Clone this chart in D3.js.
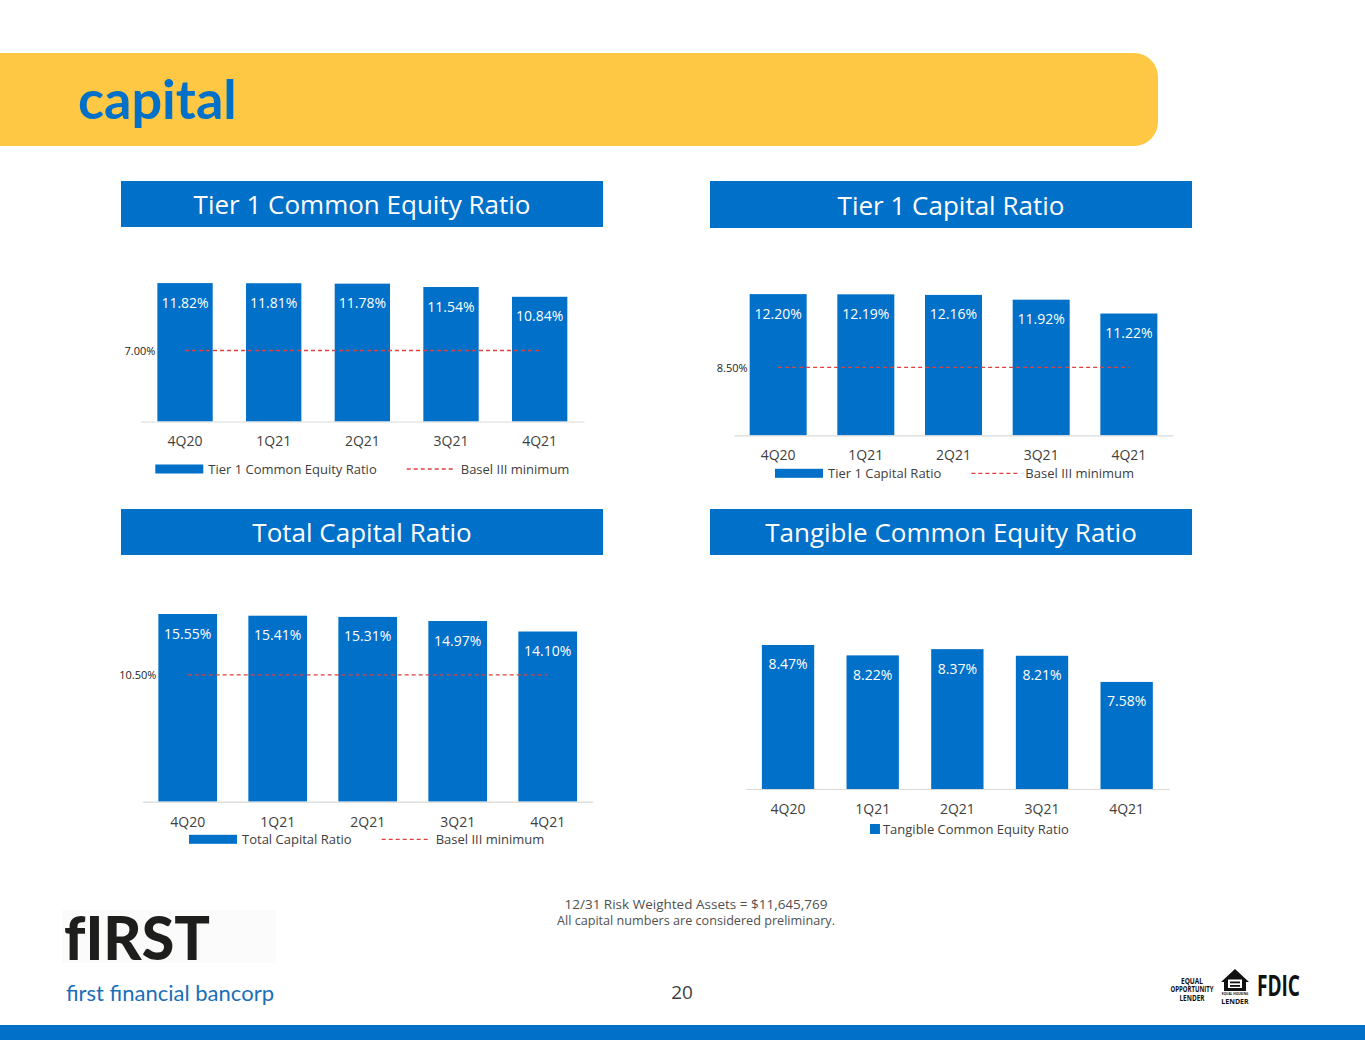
<!DOCTYPE html>
<html>
<head>
<meta charset="utf-8">
<script src="https://cdn.jsdelivr.net/npm/d3@7"></script>
<style>
  html, body { margin: 0; padding: 0; background: #ffffff; }
  svg { display: block; }
  text { font-family: "Open Sans", "Noto Sans", sans-serif; }
</style>
</head>
<body>
<svg id="page" width="1365" height="1055"></svg>
<script>
// ---------- DATA ----------
const categories = ["4Q20", "1Q21", "2Q21", "3Q21", "4Q21"];
const tier1CommonEquity = [11.82, 11.81, 11.78, 11.54, 10.84];
const tier1Capital = [12.20, 12.19, 12.16, 11.92, 11.22];
const totalCapital = [15.55, 15.41, 15.31, 14.97, 14.10];
const tangibleCommonEquity = [8.47, 8.22, 8.37, 8.21, 7.58];
const baselTier1Common = [7.00, 7.00, 7.00, 7.00, 7.00];
const baselTier1Capital = [8.50, 8.50, 8.50, 8.50, 8.50];
const baselTotalCapital = [10.50, 10.50, 10.50, 10.50, 10.50];
const chartTitles = ["Tier 1 Common Equity Ratio", "Tier 1 Capital Ratio", "Total Capital Ratio", "Tangible Common Equity Ratio"];
const footnotes = ["12/31 Risk Weighted Assets = $11,645,769", "All capital numbers are considered preliminary."];

// ---------- STYLE ----------
const BLUE = "#0070C9";
const YELLOW = "#FEC844";
const RED = "#E0413F";
const GREY_TEXT = "#404040";
const fmt = v => v.toFixed(2) + "%";
const footnoteWidths = [263, 278];

const svg = d3.select("#page");

// header banner with rounded right corners
const bannerPath = d3.path();
(function(){
  const x0 = -5, y0 = 53, x1 = 1158, y1 = 146, r = 24;
  bannerPath.moveTo(x0, y0);
  bannerPath.lineTo(x1 - r, y0);
  bannerPath.arcTo(x1, y0, x1, y0 + r, r);
  bannerPath.lineTo(x1, y1 - r);
  bannerPath.arcTo(x1, y1, x1 - r, y1, r);
  bannerPath.lineTo(x0, y1);
  bannerPath.closePath();
})();
svg.append("path").attr("d", bannerPath.toString()).attr("fill", YELLOW);
svg.append("text").attr("x", 78).attr("y", 119)
  .style("font-family", "Lato, 'Open Sans', sans-serif")
  .attr("font-size", 54).attr("font-weight", 700).attr("fill", BLUE)
  .text("capital");

// ---------- CHART CONFIGS (layout only) ----------
const charts = [
  { title: chartTitles[0], values: tier1CommonEquity, basel: baselTier1Common,
    box: [121, 181, 482, 46], x0: 140.7, x1: 584, base: 421.5, domain: [1.92, 13.5], pxPer: 13.98,
    pad: 0.376, legendY: 469, legendShift: 0, legendName: "Tier 1 Common Equity Ratio", squareLegend: false },
  { title: chartTitles[1], values: tier1Capital, basel: baselTier1Capital,
    box: [710, 181, 482, 47], x0: 734.3, x1: 1172.7, base: 435.3, domain: [5.07, 13], pxPer: 19.8,
    pad: 0.35, legendY: 473.3, legendShift: 1, legendName: "Tier 1 Capital Ratio", squareLegend: false },
  { title: chartTitles[2], values: totalCapital, basel: baselTotalCapital,
    box: [121, 509, 482, 46], x0: 142.7, x1: 592.7, base: 801.7, domain: [0, 17], pxPer: 12.07,
    pad: 0.348, legendY: 839.3, legendShift: -1, legendName: "Total Capital Ratio", squareLegend: false },
  { title: chartTitles[3], values: tangibleCommonEquity, basel: null,
    box: [710, 509, 482, 46], x0: 745.7, x1: 1169, base: 789, domain: [5, 9], pxPer: 41.5,
    pad: 0.382, legendY: 829, legendShift: 12, legendName: "Tangible Common Equity Ratio", squareLegend: true }
];

charts.forEach(c => {
  // section header
  const [bx, by, bw, bh] = c.box;
  svg.append("rect").attr("x", bx).attr("y", by).attr("width", bw).attr("height", bh).attr("fill", BLUE);
  svg.append("text").attr("x", bx + bw / 2).attr("y", by + bh / 2)
    .attr("text-anchor", "middle").attr("dominant-baseline", "central")
    .attr("font-size", 26).attr("font-weight", 500).attr("fill", "#ffffff").text(c.title);

  const g = svg.append("g");
  const x = d3.scaleBand().domain(categories).range([c.x0, c.x1])
    .paddingInner(c.pad).paddingOuter(c.pad / 2);
  const top = c.base - (c.domain[1] - c.domain[0]) * c.pxPer;
  const y = d3.scaleLinear().domain(c.domain).range([c.base, top]);

  const data = categories.map((k, i) => ({ k, v: c.values[i], b: c.basel ? c.basel[i] : null }));

  // bars
  g.selectAll("rect.bar").data(data).join("rect").attr("class", "bar")
    .attr("x", d => x(d.k)).attr("width", x.bandwidth())
    .attr("y", d => y(d.v)).attr("height", d => y(c.domain[0]) - y(d.v))
    .attr("fill", BLUE);

  // axis
  const axis = d3.axisBottom(x).tickSize(0).tickPadding(15).tickSizeOuter(0);
  const ag = g.append("g").attr("transform", `translate(0,${c.base})`).call(axis);
  ag.select(".domain").attr("stroke", "#D9D9D9").attr("stroke-width", 1.2);
  ag.selectAll("text").attr("font-size", 14).attr("fill", GREY_TEXT)
    .style("font-family", "'Open Sans', sans-serif");

  // data labels
  g.selectAll("text.lbl").data(data).join("text").attr("class", "lbl")
    .attr("x", d => x(d.k) + x.bandwidth() / 2).attr("y", d => y(d.v) + 19)
    .attr("text-anchor", "middle").attr("dominant-baseline", "central")
    .attr("font-size", 14).attr("fill", "#ffffff").text(d => fmt(d.v));

  // basel line
  if (c.basel) {
    const line = d3.line().x(d => x(d.k) + x.bandwidth() / 2).y(d => y(d.b));
    g.append("path").datum(data).attr("d", line).attr("fill", "none")
      .attr("stroke", RED).attr("stroke-width", 1.3).attr("stroke-dasharray", "4,3");
    g.append("text").attr("x", x(categories[0]) - 2).attr("y", y(c.basel[0]))
      .attr("text-anchor", "end").attr("dominant-baseline", "central")
      .attr("font-size", 11).attr("fill", "#222").text(fmt(c.basel[0]));
  }

  // legend (centered under plot)
  const lg = g.append("g");
  const center = (c.x0 + c.x1) / 2 + c.legendShift;
  if (c.squareLegend) {
    lg.append("rect").attr("x", 0).attr("y", -5).attr("width", 10).attr("height", 10).attr("fill", BLUE);
    const t = lg.append("text").attr("x", 13).attr("y", 0).attr("dominant-baseline", "central")
      .attr("font-size", 13).attr("fill", GREY_TEXT).text(c.legendName);
    const w = 13 + t.node().getComputedTextLength();
    lg.attr("transform", `translate(${center - w / 2},${c.legendY})`);
  } else {
    lg.append("rect").attr("x", 0).attr("y", -4.5).attr("width", 48).attr("height", 9).attr("fill", BLUE);
    const t1 = lg.append("text").attr("x", 53).attr("y", 0).attr("dominant-baseline", "central")
      .attr("font-size", 13).attr("fill", GREY_TEXT).text(c.legendName);
    const x2 = 53 + t1.node().getComputedTextLength() + 30;
    lg.append("line").attr("x1", x2).attr("x2", x2 + 48).attr("y1", 0).attr("y2", 0)
      .attr("stroke", RED).attr("stroke-width", 1.3).attr("stroke-dasharray", "4,3");
    const t2 = lg.append("text").attr("x", x2 + 54).attr("y", 0).attr("dominant-baseline", "central")
      .attr("font-size", 13).attr("fill", GREY_TEXT).text("Basel III minimum");
    const w = x2 + 54 + t2.node().getComputedTextLength();
    lg.attr("transform", `translate(${center - w / 2},${c.legendY})`);
  }
});

// footnotes
footnotes.forEach((f, i) => {
  svg.append("text").attr("x", 696).attr("y", 904 + i * 15.5)
    .attr("text-anchor", "middle").attr("dominant-baseline", "central")
    .attr("font-size", 13.5).attr("fill", "#505050")
    .attr("textLength", footnoteWidths[i]).attr("lengthAdjust", "spacingAndGlyphs").text(f);
});
svg.append("text").attr("x", 682).attr("y", 992).attr("text-anchor", "middle")
  .attr("dominant-baseline", "central").attr("font-size", 19).attr("fill", GREY_TEXT).text("20");

// logo
svg.append("rect").attr("x", 62).attr("y", 910).attr("width", 214).attr("height", 53).attr("fill", "#FBFBFB");
svg.append("text").attr("x", 64).attr("y", 960)
  .style("font-family", "Lato, 'DejaVu Sans', sans-serif")
  .attr("font-size", 60).attr("font-weight", 900).attr("fill", "#1E1E1C")
  .attr("textLength", 146).attr("lengthAdjust", "spacingAndGlyphs")
  .text("fIRST");
svg.append("text").attr("x", 66).attr("y", 992).attr("dominant-baseline", "central")
  .style("font-family", "Lato, 'Open Sans', sans-serif")
  .attr("font-size", 22).attr("fill", "#1A6FB8")
  .attr("textLength", 208).attr("lengthAdjust", "spacingAndGlyphs")
  .text("first financial bancorp");

// regulatory marks
const reg = svg.append("g").style("font-family", "'Liberation Sans Narrow', 'DejaVu Sans Condensed', sans-serif")
  .attr("font-weight", 700).attr("fill", "#111");
[["EQUAL", 22], ["OPPORTUNITY", 43], ["LENDER", 25]].forEach((s, i) => {
  reg.append("text").attr("x", 1192).attr("y", 980 + i * 8.5).attr("text-anchor", "middle")
    .attr("dominant-baseline", "central").attr("font-size", 8.5)
    .attr("textLength", s[1]).attr("lengthAdjust", "spacingAndGlyphs").text(s[0]);
});
const hp = d3.path();
hp.moveTo(1221, 982); hp.lineTo(1235, 969); hp.lineTo(1249, 982); hp.lineTo(1246, 982);
hp.lineTo(1246, 991); hp.lineTo(1224, 991); hp.lineTo(1224, 982); hp.closePath();
reg.append("path").attr("d", hp.toString()).attr("fill", "#111");
reg.append("rect").attr("x", 1228).attr("y", 979.5).attr("width", 14).attr("height", 8.5).attr("fill", "#fff");
reg.append("rect").attr("x", 1230).attr("y", 981.5).attr("width", 10).attr("height", 1.8).attr("fill", "#111");
reg.append("rect").attr("x", 1230).attr("y", 985).attr("width", 10).attr("height", 1.8).attr("fill", "#111");
reg.append("text").attr("x", 1235).attr("y", 995).attr("text-anchor", "middle").attr("font-size", 3.2).text("EQUAL HOUSING");
reg.append("text").attr("x", 1235).attr("y", 1003.5).attr("text-anchor", "middle").attr("font-size", 7).text("LENDER");
reg.append("text").attr("x", 1257).attr("y", 996).attr("font-size", 28).attr("textLength", 43)
  .attr("lengthAdjust", "spacingAndGlyphs").text("FDIC");

// bottom stripe
svg.append("rect").attr("x", 0).attr("y", 1025).attr("width", 1365).attr("height", 15).attr("fill", BLUE);
</script>
</body>
</html>
